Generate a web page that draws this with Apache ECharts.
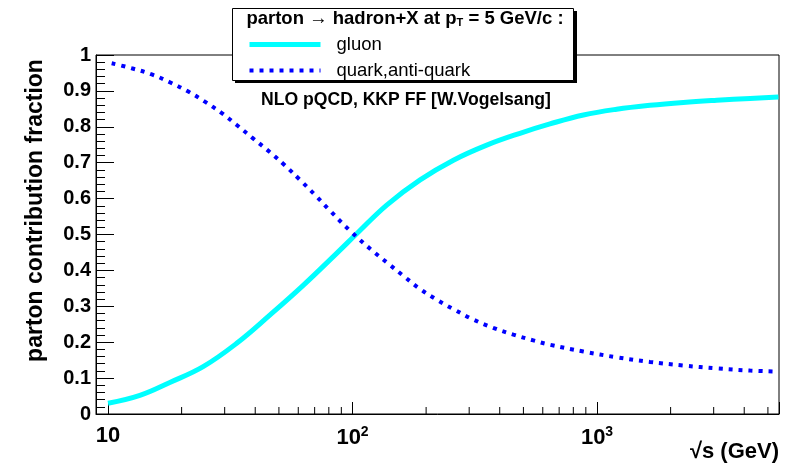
<!DOCTYPE html>
<html>
<head>
<meta charset="utf-8">
<script src="https://cdn.jsdelivr.net/npm/echarts@6/dist/echarts.min.js"></script>
<style>html,body{margin:0;padding:0;background:#fff}#c{width:795px;height:467px}</style>
</head>
<body>
<div id="c"></div>
<script>
// ---- data ----
const gluonX = [10, 13.5, 17.9, 24.5, 33.6, 46, 63, 86.1, 104, 138, 189, 258.6, 354, 484, 642, 880, 1203, 1647, 2254, 3090, 4230, 5520];
const gluonY = [0.030, 0.052, 0.088, 0.132, 0.197, 0.276, 0.359, 0.4475, 0.502, 0.582, 0.652, 0.707, 0.749, 0.782, 0.808, 0.833, 0.849, 0.860, 0.868, 0.874, 0.879, 0.883];
const quarkX = [10.35, 12.5, 15.1, 17.9, 21.3, 24.9, 29.2, 33.6, 39.3, 46, 53, 61, 70.3, 81, 97.8, 120, 140, 164, 189, 224, 262, 312, 376, 455, 549, 642, 880, 1203, 1647, 2254, 3090, 4230, 5520];
const quarkY = [0.977, 0.963, 0.946, 0.924, 0.898, 0.870, 0.838, 0.805, 0.767, 0.729, 0.692, 0.652, 0.610, 0.566, 0.510, 0.456, 0.419, 0.381, 0.348, 0.316, 0.290, 0.263, 0.240, 0.221, 0.205, 0.193, 0.174, 0.158, 0.145, 0.135, 0.127, 0.121, 0.118];
const xMinorTicks = [20, 30, 40, 50, 60, 70, 80, 90, 200, 300, 400, 500, 600, 700, 800, 900, 2000, 3000, 4000, 5000];
const seriesNames = ['gluon', 'quark,anti-quark'];
const legendTitle = 'parton \u2192 hadron+X at p{sub|T} = 5 GeV/c :';
const noteText = 'NLO pQCD, KKP FF [W.Vogelsang]';
const xTitle = '\u221As (GeV)';
const yTitle = 'parton contribution fraction';

const FONT = '"Liberation Sans", Arial, Helvetica, sans-serif';
const chart = echarts.init(document.getElementById('c'), null, {renderer: 'canvas'});
const zip = (xs, ys) => xs.map((x, i) => [x, ys[i]]);
const GLUON_COLOR = '#00ffff', QUARK_COLOR = '#0000ff';
const QUARK_DASH = [4, 6];

chart.setOption({
  animation: false,
  backgroundColor: '#fff',
  grid: {left: 96, right: 16, top: 55, bottom: 53, show: true, borderColor: '#000', borderWidth: 1, backgroundColor: 'transparent'},
  xAxis: {
    type: 'log', logBase: 10, min: 8.93, max: 5550,
    axisLine: {show: true, lineStyle: {color: '#000', width: 1}},
    axisTick: {show: true, inside: true, length: 12, lineStyle: {color: '#000'}},
    splitLine: {show: false},
    axisLabel: {
      margin: 11, color: '#000', fontFamily: FONT, fontWeight: 'bold', fontSize: 22,
      formatter: function (v) {
        const e = Math.log10(v);
        if (Math.abs(e - Math.round(e)) > 1e-6) return '';
        const n = Math.round(e);
        return n === 1 ? '10' : '10{sup|' + n + '}';
      },
      rich: {sup: {fontSize: 14, fontWeight: 'bold', fontFamily: FONT, color: '#000', verticalAlign: 'top', padding: [0, 0, 12, 0]}}
    },
    name: xTitle, nameLocation: 'end', nameGap: 0,
    nameTextStyle: {color: '#000', fontFamily: FONT, fontWeight: 'bold', fontSize: 22, align: 'right', verticalAlign: 'top', padding: [27, 0, 0, 0]}
  },
  yAxis: {
    type: 'value', min: 0, max: 1, interval: 0.1,
    axisLine: {show: true, lineStyle: {color: '#000', width: 1}},
    axisTick: {show: true, inside: true, length: 18, lineStyle: {color: '#000'}},
    minorTick: {show: true, splitNumber: 5, length: 9, lineStyle: {color: '#000'}},
    splitLine: {show: false},
    axisLabel: {margin: 5, color: '#000', fontFamily: FONT, fontWeight: 'bold', fontSize: 20},
    name: yTitle, nameLocation: 'middle', nameGap: 49, nameRotate: 90,
    nameTextStyle: {color: '#000', fontFamily: FONT, fontWeight: 'bold', fontSize: 23, padding: [0, 0, 0, 48]}
  },
  legend: {
    show: true, orient: 'vertical', left: 247, top: 35, z: 20, padding: 0,
    itemWidth: 71, itemHeight: 14, itemGap: 7,
    data: [
      {name: seriesNames[0], itemStyle: {opacity: 0}, lineStyle: {color: GLUON_COLOR, width: 5, type: 'solid'}},
      {name: seriesNames[1], itemStyle: {opacity: 0}, lineStyle: {color: QUARK_COLOR, width: 4, type: QUARK_DASH, cap: 'butt'}}
    ],
    textStyle: {color: '#000', fontFamily: FONT, fontSize: 18.5, padding: [0, 0, 0, 11]}
  },
  graphic: [
    {type: 'rect', z: 10, shape: {x: 235, y: 11, width: 342, height: 72}, style: {fill: '#000'}},
    {type: 'rect', z: 11, shape: {x: 232.5, y: 8.5, width: 341, height: 72}, style: {fill: '#fff', stroke: '#000', lineWidth: 1}},
    {type: 'text', z: 21, x: 405, y: 19, style: {
      text: legendTitle, fill: '#000', font: 'bold 18.5px ' + FONT, align: 'center', verticalAlign: 'middle',
      rich: {sub: {fontSize: 11, fontWeight: 'bold', fontFamily: FONT, fill: '#000', verticalAlign: 'bottom', padding: [8, 0, 0, 0]}}
    }},
    {type: 'text', z: 21, x: 406, y: 100, style: {text: noteText, fill: '#000', font: 'bold 17.6px ' + FONT, align: 'center', verticalAlign: 'middle'}}
  ],
  series: [
    {
      name: seriesNames[0], type: 'line', data: zip(gluonX, gluonY), smooth: 0.4, showSymbol: false, symbol: 'none',
      lineStyle: {color: GLUON_COLOR, width: 5}, itemStyle: {color: GLUON_COLOR}, z: 3
    },
    {
      name: seriesNames[1], type: 'line', data: zip(quarkX, quarkY), smooth: 0.4, showSymbol: false, symbol: 'none',
      lineStyle: {color: QUARK_COLOR, width: 4, type: QUARK_DASH, cap: 'butt'}, itemStyle: {color: QUARK_COLOR}, z: 3
    },
    {
      type: 'custom', silent: true, z: 2, legendHoverLink: false,
      data: xMinorTicks.map(v => [v, 0]),
      renderItem: function (params, api) {
        const p = api.coord([api.value(0), 0]);
        return {type: 'line', shape: {x1: p[0], y1: p[1], x2: p[0], y2: p[1] - 7}, style: {stroke: '#000', lineWidth: 1}};
      }
    }
  ]
});
</script>
</body>
</html>
